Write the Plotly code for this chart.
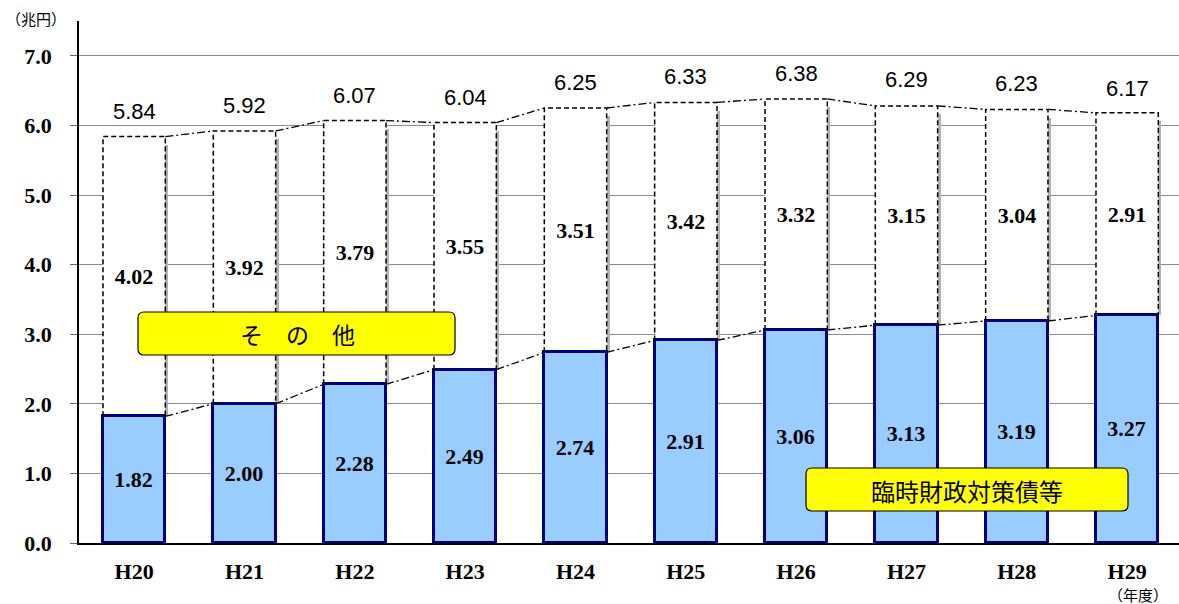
import plotly.graph_objects as go

# 年度別の内訳（兆円）
years = ["H20", "H21", "H22", "H23", "H24", "H25", "H26", "H27", "H28", "H29"]
rinji = [1.82, 2.00, 2.28, 2.49, 2.74, 2.91, 3.06, 3.13, 3.19, 3.27]      # 臨時財政対策債等
sonota = [4.02, 3.92, 3.79, 3.55, 3.51, 3.42, 3.32, 3.15, 3.04, 2.91]     # その他
totals = [5.84, 5.92, 6.07, 6.04, 6.25, 6.33, 6.38, 6.29, 6.23, 6.17]     # 合計
y_ticks = [0, 1, 2, 3, 4, 5, 6, 7]

SERIF = dict(family="Liberation Serif", size=22, color="black", weight="bold")
SANS = dict(family="Liberation Sans", size=22, color="black")
CJK = "Noto Sans CJK JP"

W, H = 1179, 604
ML, MR, MT, MB = 79, 0, 21, 61
PW, PH = W - ML - MR, H - MT - MB

BAR_W = 0.565
half = BAR_W / 2
xs = list(range(len(years)))
tops = [b + s for b, s in zip(rinji, sonota)]

fig = go.Figure()

# 影（その他の棒の右側）
fig.add_trace(go.Bar(
    x=xs, y=[s - 0.12 for s in sonota], base=rinji,
    width=0.028, offset=half - 0.002,
    marker=dict(color="#b2b2b2", line_width=0), hoverinfo="skip",
))

# その他（白抜き）
fig.add_trace(go.Bar(
    x=xs, y=sonota, base=rinji, width=BAR_W,
    marker=dict(color="white", line_width=0),
    text=[f"{v:.2f}" for v in sonota], textposition="inside",
    insidetextanchor="middle", textangle=0, constraintext="none",
    textfont=SERIF, hoverinfo="skip",
))

# 臨時財政対策債等
fig.add_trace(go.Bar(
    x=xs, y=rinji, width=BAR_W,
    marker=dict(color="#99CCFF", line=dict(color="#000080", width=3)),
    text=[f"{v:.2f}" for v in rinji], textposition="inside",
    insidetextanchor="middle", textangle=0, constraintext="none",
    textfont=SERIF, hoverinfo="skip",
))

# その他の破線枠
ox, oy = [], []
for i, (b, t) in enumerate(zip(rinji, tops)):
    ox += [i - half, i - half, i + half, i + half, None]
    oy += [b, t, t, b, None]
fig.add_trace(go.Scatter(
    x=ox, y=oy, mode="lines",
    line=dict(color="black", width=1.5, dash="5px,3px"), hoverinfo="skip",
))

# 棒の間をつなぐ一点鎖線
cx, cy = [], []
for series in (tops, rinji):
    for i in range(len(series) - 1):
        cx += [i + half, i + 1 - half, None]
        cy += [series[i], series[i + 1], None]
fig.add_trace(go.Scatter(
    x=cx, y=cy, mode="lines",
    line=dict(color="black", width=1.3, dash="8px,3px,2px,3px"), hoverinfo="skip",
))

annotations = []
# 合計値
for i, t in enumerate(totals):
    annotations.append(dict(
        x=i, y=t, xref="x", yref="y", text=f"{t:.2f}", showarrow=False,
        yanchor="bottom", yshift=11, font=SANS,
    ))


def px_to_paper(px, py):
    return (px - ML) / PW, (H - MB - py) / PH


def rounded_box(x0, y0, x1, y1, r=6):
    def p(x, y):
        a, b = px_to_paper(x, y)
        return f"{a:.5f},{b:.5f}"
    path = (
        f"M {p(x0 + r, y0)} L {p(x1 - r, y0)} Q {p(x1, y0)} {p(x1, y0 + r)} "
        f"L {p(x1, y1 - r)} Q {p(x1, y1)} {p(x1 - r, y1)} "
        f"L {p(x0 + r, y1)} Q {p(x0, y1)} {p(x0, y1 - r)} "
        f"L {p(x0, y0 + r)} Q {p(x0, y0)} {p(x0 + r, y0)} Z"
    )
    return dict(type="path", xref="paper", yref="paper", path=path,
                fillcolor="#FFFF00", line=dict(color="black", width=1.2), layer="above")


shapes = [
    rounded_box(138, 312, 455, 355),
    rounded_box(806, 468, 1128, 511),
]

for label, cxp, cyp, size in (("そ　の　他", 297, 334, 23), ("臨時財政対策債等", 967, 490, 24)):
    ax, ay = px_to_paper(cxp, cyp)
    annotations.append(dict(
        x=ax, y=ay, xref="paper", yref="paper", text=label, showarrow=False,
        xanchor="center", yanchor="middle",
        font=dict(family=CJK, size=size, color="black"),
    ))

for label, cxp, cyp, size in (("（兆円）", 36, 19, 15), ("（年度）", 1138, 594, 15)):
    ax, ay = px_to_paper(cxp, cyp)
    annotations.append(dict(
        x=ax, y=ay, xref="paper", yref="paper", text=label, showarrow=False,
        xanchor="center", yanchor="middle",
        font=dict(family=CJK, size=size, color="black"),
    ))

fig.update_layout(
    width=W, height=H,
    margin=dict(l=ML, r=MR, t=MT, b=MB, pad=0),
    barmode="overlay", bargap=0,
    showlegend=False,
    plot_bgcolor="white", paper_bgcolor="white",
    xaxis=dict(
        range=[-0.5, 9.47], tickmode="array", tickvals=xs, ticktext=years,
        showgrid=False, zeroline=False, showline=True, linecolor="black", linewidth=1.5,
        ticks="", tickfont=dict(family="Liberation Serif", size=22, color="black", weight="bold"),
        ticklabelstandoff=8, fixedrange=True,
    ),
    yaxis=dict(
        range=[0, 7.5], tickmode="array", tickvals=y_ticks,
        ticktext=[f"{v:.1f}" for v in y_ticks],
        showgrid=True, gridcolor="#8c8c8c", gridwidth=1, zeroline=False,
        showline=True, linecolor="black", linewidth=1.5,
        ticks="outside", ticklen=7, tickcolor="#666666", tickwidth=1,
        tickfont=SERIF, ticklabelstandoff=14, fixedrange=True,
    ),
    shapes=shapes,
    annotations=annotations,
)

fig.write_html("out.html")
